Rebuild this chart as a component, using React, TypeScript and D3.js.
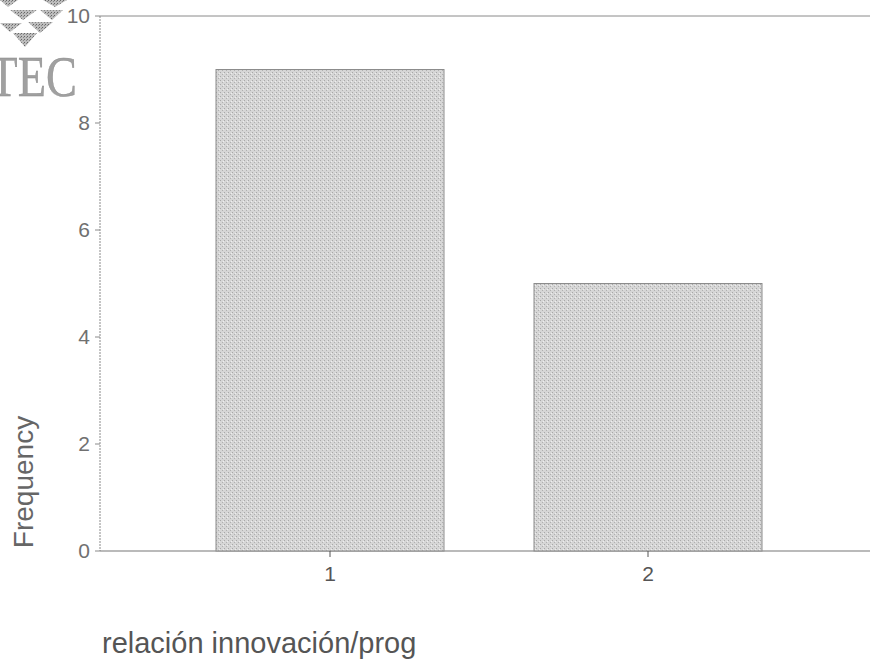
import React from "react";
import * as d3 from "d3";

const categories = ["1", "2"];
const frequencies = [9, 5];
const yTicks = [0, 2, 4, 6, 8, 10];
const xTitle = "relación innovación/prog";
const yTitle = "Frequency";
const logoText = "TEC";

const W = 870;
const H = 664;

export default function App() {
  const x = d3
    .scaleBand<string>()
    .domain(categories)
    .range([171, 807])
    .paddingInner(0.283)
    .paddingOuter(0.1415);
  const y = d3.scaleLinear().domain([0, 10]).range([551, 16]);
  const axisColor = "#8a8a8a";
  const textColor = "#707070";
  const font = "Liberation Sans, Arial, sans-serif";

  const tris: [number, number][][] = [
    [[0, 0], [18, 0], [8, 7]],
    [[43, 0], [67, 0], [55, 7]],
    [[10, 10], [37, 10], [23, 20]],
    [[40, 10], [63, 10], [52, 20]],
    [[0, 23], [22, 23], [10, 32]],
    [[28, 22], [53, 22], [40, 33]],
    [[13, 33], [37, 33], [25, 47]],
  ];

  return (
    <svg
      width={W}
      height={H}
      style={{ position: "absolute", left: 0, top: 0, background: "#fff" }}
    >
      <defs>
        <pattern id="stip" width="4" height="4" patternUnits="userSpaceOnUse">
          <rect width="4" height="4" fill="#d6d6d6" />
          <rect x="0" y="0" width="1" height="1" fill="#a8a8a8" />
          <rect x="2" y="2" width="1" height="1" fill="#b0b0b0" />
          <rect x="3" y="1" width="1" height="1" fill="#eeeeee" />
        </pattern>
        <pattern id="hatch" width="3" height="3" patternUnits="userSpaceOnUse">
          <rect width="3" height="3" fill="#bdbdbd" />
          <rect width="1" height="1" fill="#666" />
          <rect x="2" y="1" width="1" height="1" fill="#888" />
        </pattern>
      </defs>

      {/* logo */}
      {tris.map((t, i) => (
        <polygon key={i} points={t.map((p) => p.join(",")).join(" ")} fill="url(#hatch)" />
      ))}
      <text
        transform="translate(77,96) scale(0.8,1)"
        textAnchor="end"
        fontFamily="Liberation Serif, Times New Roman, serif"
        fontSize={58}
        fill="#a0a0a0"
        stroke="#8a8a8a"
        strokeWidth={0.4}
      >
        {logoText}
      </text>

      {/* frame */}
      <line x1={100} x2={W} y1={y(10)} y2={y(10)} stroke={axisColor} strokeWidth={1} />
      <line x1={100} x2={100} y1={y(10)} y2={y(0)} stroke={axisColor} strokeWidth={1} strokeDasharray="2,1" />
      <line x1={100} x2={W} y1={y(0)} y2={y(0)} stroke="#777" strokeWidth={1.2} />

      {/* bars */}
      {categories.map((c, i) => (
        <rect
          key={c}
          x={x(c)}
          y={y(frequencies[i])}
          width={x.bandwidth()}
          height={y(0) - y(frequencies[i])}
          fill="url(#stip)"
          stroke="#8c8c8c"
          strokeWidth={1}
        />
      ))}

      {/* y ticks */}
      {yTicks.map((t) => (
        <g key={t}>
          <line x1={95} x2={100} y1={y(t)} y2={y(t)} stroke={axisColor} />
          <text
            x={90}
            y={y(t)}
            dy="0.35em"
            textAnchor="end"
            fontFamily={font}
            fontSize={21}
            fill={textColor}
          >
            {t}
          </text>
        </g>
      ))}

      {/* x ticks */}
      {categories.map((c) => {
        const cx = (x(c) ?? 0) + x.bandwidth() / 2;
        return (
          <g key={c}>
            <line x1={cx} x2={cx} y1={y(0)} y2={y(0) + 6} stroke="#555" />
            <text
              x={cx}
              y={y(0) + 30}
              textAnchor="middle"
              fontFamily={font}
              fontSize={21}
              fill="#555"
            >
              {c}
            </text>
          </g>
        );
      })}

      {/* titles */}
      <text
        transform={`translate(33,482) rotate(-90)`}
        textAnchor="middle"
        fontFamily={font}
        fontSize={28}
        fill="#666"
      >
        {yTitle}
      </text>
      <text x={102} y={653} fontFamily={font} fontSize={29} fill="#555">
        {xTitle}
      </text>
    </svg>
  );
}
